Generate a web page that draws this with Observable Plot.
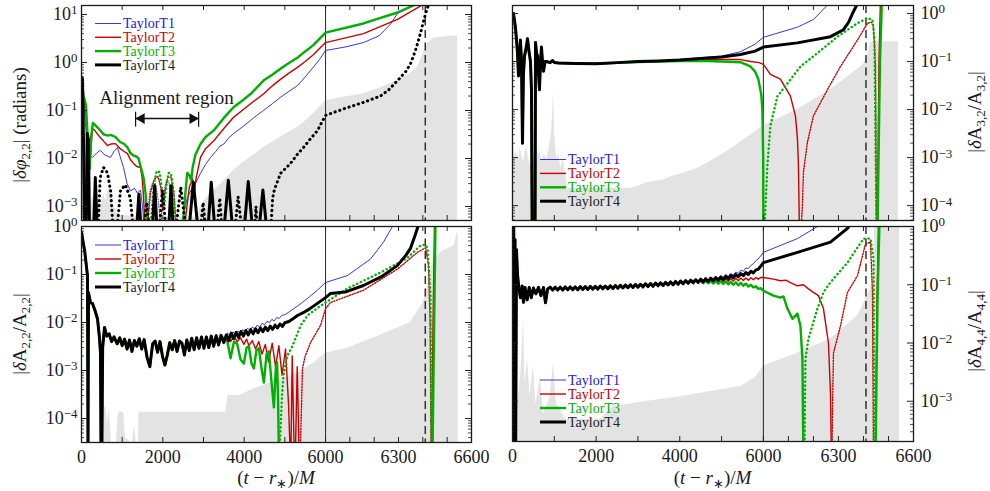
<!DOCTYPE html>
<html><head><meta charset="utf-8">
<script src="https://cdn.jsdelivr.net/npm/d3@7"></script>
<script src="https://cdn.jsdelivr.net/npm/@observablehq/plot@0.6"></script>
<style>
body{margin:0;background:#fff;}
#wrap{position:relative;width:990px;height:491px;font-family:"Liberation Serif",serif;}
#wrap svg{position:absolute;left:0;top:0;overflow:visible;}
</style></head><body><div id="wrap"></div><script>
// ---------------- DATA ----------------
const legendNames = ["TaylorT1","TaylorT2","TaylorT3","TaylorT4"];
const xTickLabels = [0,2000,4000,6000,6300,6600];
const xTickMarks = [0,1000,2000,3000,4000,5000,6000,6100,6200,6300,6400,6500,6600];
const tMerge = 6000, tPeak = 6410;

// Top-left: |delta phi_22|
const phiT1_a = [[0,0.4],[60,0.12],[120,0.03],[170,0.012],[270,0.0105],[370,0.013],[467,0.0148],[560,0.012],[713,0.0105],[800,0.014],[885,0.017],[950,0.011],[1033,0.0065],[1120,0.003],[1205,0.0021],[1300,0.0024],[1377,0.0019],[1450,0.0022],[1500,0.001],[1540,0.0004]];
const phiT1_b = [[1600,0.0004],[1680,0.002],[1750,0.0032],[1820,0.003],[1880,0.0015],[1950,0.0004],[2000,0.0015],[2080,0.0033],[2150,0.0032],[2220,0.0015],[2280,0.0004]];
const phiT1_c = [[2450,0.0004],[2600,0.0015],[2730,0.0025],[2800,0.003],[2926,0.0049],[3050,0.0075],[3172,0.0105],[3300,0.014],[3400,0.018],[3500,0.02],[3620,0.027],[3738,0.033],[3950,0.045],[4156,0.062],[4300,0.078],[4475,0.1],[4700,0.14],[4900,0.19],[5100,0.25],[5311,0.33],[5500,0.5],[5700,0.8],[5850,1.15],[6000,1.78],[6080,2.1],[6156,2.6],[6220,3.6],[6267,6.3],[6296,10.5],[6390,18]];
const phiT2_a = [[0,0.4],[50,0.2],[110,0.08],[150,0.02],[200,0.006],[240,0.02],[270,0.042],[330,0.038],[420,0.03],[541,0.023],[639,0.0186],[720,0.02],[836,0.0204],[950,0.016],[1050,0.014],[1131,0.0126],[1200,0.0095],[1279,0.0079],[1360,0.0068],[1451,0.0065],[1490,0.004],[1525,0.0016],[1560,0.0004]];
const phiT2_b = [[1620,0.0004],[1700,0.002],[1800,0.0038],[1880,0.0042],[1950,0.0025],[2000,0.0008],[2050,0.002],[2120,0.004],[2200,0.0041],[2270,0.002],[2320,0.0005]];
const phiT2_c = [[2550,0.0005],[2650,0.0025],[2730,0.0038],[2780,0.0022],[2820,0.004],[2926,0.0105],[3050,0.016],[3246,0.023],[3500,0.042],[3738,0.072],[3950,0.1],[4156,0.138],[4475,0.22],[4700,0.33],[4900,0.45],[5100,0.6],[5311,0.79],[5500,1.05],[5700,1.45],[6000,2.6],[6156,4.0],[6296,7.9],[6400,16]];
const phiT3_a = [[0,0.4],[50,0.2],[110,0.13],[150,0.03],[200,0.006],[240,0.03],[280,0.055],[330,0.05],[420,0.042],[541,0.032],[650,0.03],[720,0.031],[836,0.028],[950,0.022],[1050,0.02],[1131,0.017],[1200,0.013],[1279,0.0115],[1350,0.011],[1402,0.01],[1470,0.006],[1525,0.004],[1580,0.0017],[1623,0.0004]];
const phiT3_b = [[1700,0.0004],[1780,0.003],[1850,0.0055],[1920,0.0052],[1980,0.0022],[2030,0.0009],[2080,0.0025],[2140,0.005],[2200,0.0049],[2260,0.0022],[2300,0.0006]];
const phiT3_c = [[2490,0.0004],[2557,0.002],[2600,0.005],[2650,0.0045],[2700,0.0035],[2730,0.0063],[2800,0.012],[2926,0.02],[3050,0.028],[3246,0.038],[3500,0.07],[3738,0.117],[3950,0.16],[4156,0.22],[4475,0.42],[4700,0.56],[4900,0.75],[5100,0.98],[5311,1.26],[5500,1.7],[5700,2.3],[6000,4.2],[6156,6.5],[6296,11],[6390,18]];
const phiT4_solid = [
  [[0,0.5],[25,0.45],[50,0.02],[74,0.0002]],
  [[110,0.0002],[140,0.033],[170,0.025],[200,0.0002]],
  [[290,0.0002],[340,0.004],[395,0.0002]],
  [[1340,0.0002],[1410,0.0018],[1480,0.0002]],
  [[1730,0.0002],[1800,0.0027],[1870,0.0002]],
  [[2130,0.0002],[2200,0.0027],[2270,0.0002]],
  [[2620,0.0002],[2750,0.0032],[2890,0.0002]],
  [[3090,0.0002],[3190,0.0032],[3300,0.0002]],
  [[3480,0.0002],[3610,0.0035],[3740,0.0002]],
  [[3980,0.0002],[4100,0.0033],[4230,0.0002]],
  [[4340,0.0002],[4460,0.0022],[4580,0.0002]]
];
const phiT4_dotted = [
  [[400,0.0002],[460,0.004],[541,0.0065],[640,0.005],[720,0.002],[790,0.0002]],
  [[850,0.0002],[960,0.0022],[1080,0.0028],[1200,0.0015],[1300,0.0002]],
  [[1500,0.0002],[1600,0.0012],[1700,0.0002]],
  [[1890,0.0002],[1990,0.0022],[2100,0.0002]],
  [[2290,0.0002],[2440,0.0025],[2600,0.0002]],
  [[2900,0.0002],[2990,0.0012],[3080,0.0002]],
  [[3310,0.0002],[3400,0.0015],[3470,0.0002]],
  [[3750,0.0002],[3850,0.0016],[3970,0.0002]],
  [[4240,0.0002],[4290,0.001],[4330,0.0002]],
  [[4640,0.0002],[4700,0.0015],[4740,0.0022],[4800,0.003],[4893,0.0049],[5000,0.006],[5139,0.0079],[5300,0.012],[5459,0.017],[5650,0.027],[5803,0.038],[5900,0.055],[6000,0.079],[6090,0.115],[6160,0.15],[6226,0.2],[6260,0.27],[6296,0.42],[6330,0.65],[6349,0.93],[6370,1.8],[6390,4.0],[6405,8],[6419,14],[6440,20]]
];
const phiErr = [[0,0.004],[30,0.0015],[70,0.0025],[110,0.0012],[160,0.002],[220,0.0011],[280,0.0016],[340,0.0009],[400,0.0014],[470,0.0011],[540,0.0018],[600,0.0013],[650,0.0022],[713,0.0025],[760,0.0012],[820,0.0009],[900,0.0007],[1000,0.00065],[1500,0.0006],[2000,0.0006],[2500,0.0006],[2850,0.0006],[2950,0.0011],[3100,0.0016],[3246,0.0021],[3500,0.0034],[3738,0.0056],[4000,0.0085],[4250,0.012],[4475,0.017],[4700,0.022],[4900,0.028],[5100,0.035],[5311,0.045],[5500,0.06],[5700,0.085],[5850,0.115],[6000,0.16],[6080,0.19],[6156,0.22],[6230,0.3],[6296,0.42],[6350,0.6],[6378,0.8],[6395,1.3],[6410,2.0],[6419,2.5],[6444,3.2],[6500,3.5],[6543,3.6]];
const alignEnds = [1330, 2880];
const alignY = 0.068, alignBarLo = 0.045, alignBarHi = 0.092;
const alignLabel = "Alignment region", alignLabelT = 2090, alignLabelY = 0.187;

// Top-right: |delta A_32 / A_32|
const a32_early = [[0,1.0],[24,1.0],[72,0.5],[120,0.15],[143,0.05],[170,0.15],[190,0.28],[215,0.1],[239,0.002],[260,0.05],[287,0.13],[330,0.2],[359,0.3],[400,0.15],[430,0.1],[454,0.025],[470,0.00003],[540,0.00003],[550,0.25],[575,0.15],[598,0.13],[620,0.06],[645,0.026],[670,0.1],[693,0.2],[720,0.09],[741,0.063],[780,0.1],[813,0.1],[900,0.095],[956,0.105],[1000,0.096]];
const a32_T1 = [[1100,0.093],[1500,0.091],[2000,0.09],[2500,0.095],[3000,0.1],[3500,0.104],[4000,0.11],[4500,0.12],[5000,0.13],[5450,0.16],[5800,0.23],[6000,0.32],[6136,0.52],[6200,0.75],[6256,1.5]];
const a32_T2 = [[1100,0.093],[1500,0.091],[2000,0.09],[2500,0.095],[3000,0.1],[3500,0.102],[4000,0.106],[4500,0.108],[5000,0.11],[5450,0.11],[5700,0.1],[5900,0.095],[6000,0.087],[6028,0.054],[6068,0.043],[6108,0.019],[6128,0.0074],[6136,0.0025],[6140,0.0007],[6144,0.00003]];
const a32_T2_dot = [[6150,0.00003],[6156,0.0001],[6160,0.0005],[6176,0.0021],[6200,0.0074],[6256,0.026],[6308,0.079],[6376,0.28],[6416,0.63],[6432,0.66],[6440,0.52],[6448,0.079],[6452,0.00003]];
const a32_T2_end = [[6456,0.00003],[6462,0.1],[6468,2]];
const a32_T3 = [[1100,0.093],[1500,0.091],[2000,0.09],[2500,0.094],[3000,0.098],[3500,0.1],[4000,0.103],[4500,0.104],[5000,0.1],[5450,0.097],[5689,0.079],[5800,0.062],[5880,0.043],[5950,0.02],[5976,0.01],[5995,0.001],[6000,0.00003]];
const a32_T3_dot = [[6004,0.00003],[6016,0.0007],[6028,0.0046],[6056,0.019],[6096,0.035],[6148,0.079],[6216,0.15],[6296,0.33],[6376,0.63],[6416,0.8],[6436,0.74],[6444,0.28],[6452,0.00003]];
const a32_T3_end = [[6456,0.00003],[6466,0.1],[6474,2]];
const a32_T4 = [[1100,0.093],[1500,0.091],[2000,0.09],[2500,0.095],[3000,0.1],[3500,0.103],[4000,0.108],[4500,0.116],[5000,0.125],[5450,0.14],[5800,0.165],[6000,0.2],[6136,0.245],[6268,0.33],[6320,0.46],[6340,0.65],[6356,1.0],[6376,1.6]];
const a32Err = [[0,0.0012],[30,0.0016],[60,0.001],[100,0.0014],[140,0.0009],[180,0.0016],[220,0.0011],[260,0.0008],[300,0.0013],[340,0.0017],[380,0.001],[420,0.0007],[460,0.0012],[500,0.0009],[540,0.0015],[580,0.0018],[620,0.0011],[660,0.0014],[700,0.0008],[760,0.0012],[820,0.0009],[880,0.0016],[940,0.004],[980,0.023],[1010,0.003],[1060,0.0009],[1100,0.0012],[1160,0.0006],[1220,0.0009],[1280,0.0004],[1330,0.00023],[2000,0.00023],[2820,0.00023],[3000,0.00025],[3200,0.0003],[3610,0.00034],[3800,0.0004],[4000,0.00045],[4420,0.00059],[4800,0.0009],[5100,0.0013],[5450,0.0021],[5700,0.003],[6000,0.0046],[6136,0.01],[6268,0.026],[6360,0.059],[6400,0.087],[6420,0.15],[6428,0.25],[6470,0.26],[6540,0.26]];

// Bottom-left: |delta A_22 / A_22|
const a22_common = [[0,0.75],[80,0.3],[147,0.095],[160,0.00002],[172,0.042],[221,0.026],[270,0.025],[330,0.018],[393,0.012],[440,0.005],[467,0.0023],[480,0.00002],[500,0.00002],[520,0.003],[566,0.0079],[620,0.0052],[680,0.0058],[740,0.004],[800,0.005],[877,0.0036],[940,0.0048],[1000,0.0033],[1060,0.0045],[1120,0.0028],[1180,0.0043],[1240,0.0025],[1300,0.0042],[1360,0.0032],[1420,0.0046],[1480,0.0028],[1540,0.0044],[1610,0.0019],[1680,0.0012],[1750,0.0036],[1810,0.0041],[1870,0.0024],[1930,0.004],[1990,0.002],[2050,0.0013],[2110,0.0021],[2170,0.0038],[2230,0.0027],[2290,0.0042],[2350,0.0025],[2410,0.0041],[2470,0.0037],[2530,0.0021],[2590,0.0043],[2650,0.0026],[2710,0.0047],[2770,0.0027],[2830,0.0048],[2890,0.0029],[2950,0.005],[3010,0.0029],[3070,0.005],[3130,0.003],[3190,0.0052],[3250,0.0032],[3310,0.0053],[3370,0.0034],[3430,0.0054]];
const a22_T1 = [[3500,0.0045],[3583,0.006],[3664,0.0054],[3720,0.0064],[3780,0.0056],[3840,0.0067],[3900,0.0059],[3960,0.0071],[4020,0.0063],[4080,0.0076],[4140,0.0068],[4200,0.0081],[4260,0.0074],[4320,0.0088],[4380,0.008],[4440,0.0096],[4500,0.009],[4560,0.0106],[4620,0.0099],[4680,0.0116],[4740,0.0108],[4800,0.0127],[4860,0.0121],[4920,0.014],[5000,0.0145],[5100,0.0165],[5200,0.019],[5311,0.022],[5450,0.027],[5600,0.034],[5800,0.047],[5950,0.062],[6000,0.068],[6090,0.095],[6185,0.21],[6238,0.47],[6275,1.0],[6290,1.5]];
const a22_T2 = [[3500,0.0042],[3583,0.0055],[3664,0.004],[3750,0.0052],[3830,0.004],[3910,0.0048],[3992,0.0035],[4060,0.0045],[4115,0.0033],[4200,0.0042],[4280,0.0028],[4361,0.004],[4440,0.0022],[4520,0.0035],[4600,0.0015],[4689,0.0037],[4770,0.0012],[4853,0.0033],[4930,0.0008],[5017,0.0028],[5090,0.0002],[5130,0.00002],[5150,0.00002],[5181,0.002],[5230,0.00002],[5260,0.00002],[5304,0.0012],[5350,0.00002]];
const a22_T2_dot = [[5380,0.00002],[5420,0.0004],[5434,0.0011],[5500,0.002],[5631,0.0038],[5877,0.0087],[6000,0.0195],[6020,0.026],[6156,0.047],[6296,0.13],[6378,0.29],[6411,0.36],[6423,0.16],[6430,0.01],[6434,0.00002]];
const a22_T2_end = [[6436,0.00002],[6442,0.01],[6448,1.2]];
const a22_T3 = [[3500,0.0045],[3583,0.0042],[3664,0.0018],[3750,0.004],[3828,0.0036],[3910,0.0017],[3992,0.0014],[4060,0.003],[4115,0.0032],[4180,0.0014],[4238,0.0011],[4300,0.0026],[4361,0.0029],[4420,0.0012],[4484,0.00056],[4550,0.0022],[4607,0.0025],[4670,0.0006],[4730,0.00017],[4780,0.0012],[4810,0.0015],[4835,0.0002],[4853,0.00002]];
const a22_T3_dot = [[4870,0.00002],[4930,0.0003],[4968,0.0008],[5030,0.0016],[5090,0.0023],[5170,0.003],[5262,0.0047],[5400,0.009],[5557,0.014],[5800,0.02],[6000,0.026],[6090,0.051],[6226,0.11],[6336,0.22],[6390,0.4],[6410,0.42],[6419,0.35],[6431,0.042],[6436,0.00002]];
const a22_T3_end = [[6440,0.00002],[6444,0.001],[6452,1.2]];
const a22_T4 = [[3500,0.0038],[3560,0.0055],[3620,0.0042],[3680,0.006],[3740,0.0046],[3800,0.0062],[3860,0.0049],[3920,0.0065],[3980,0.0052],[4040,0.0068],[4100,0.0055],[4160,0.0071],[4220,0.0058],[4280,0.0074],[4340,0.0061],[4400,0.0077],[4460,0.0064],[4520,0.008],[4580,0.0068],[4640,0.0084],[4700,0.0072],[4760,0.0088],[4820,0.0077],[4880,0.0093],[4940,0.0083],[5000,0.0099],[5100,0.0105],[5200,0.012],[5311,0.014],[5450,0.016],[5600,0.019],[5800,0.025],[6000,0.033],[6020,0.04],[6080,0.043],[6156,0.059],[6230,0.09],[6296,0.155],[6330,0.25],[6349,0.35],[6370,0.7],[6385,1.2]];
const a22Err = [[0,0.00003],[500,0.00003],[530,0.00017],[600,0.00017],[640,0.00008],[680,0.00016],[740,0.00003],[860,0.00003],[900,0.00012],[960,0.00014],[1041,0.00013],[1080,0.00004],[1250,0.00003],[1300,0.00007],[1350,0.00003],[1400,0.00003],[1410,0.000135],[3550,0.000135],[3600,0.0003],[3900,0.0003],[4200,0.0004],[4475,0.00049],[4900,0.00065],[5311,0.0009],[5700,0.0014],[6000,0.0023],[6090,0.0029],[6226,0.0054],[6349,0.01],[6402,0.026],[6430,0.1],[6444,0.21],[6480,0.3],[6530,0.4],[6540,0.7],[6545,0.75]];

// Bottom-right: |delta A_44 / A_44|
const a44_common = [[0,1.0],[15,0.0001],[30,1.0],[45,0.0001],[60,0.6],[75,0.0001],[95,0.4],[120,0.15],[150,0.09],[191,0.06],[230,0.095],[263,0.05],[300,0.09],[350,0.055],[400,0.09],[450,0.06],[500,0.088],[560,0.07],[621,0.09],[680,0.065],[740,0.09],[789,0.049],[840,0.085],[900,0.091],[960,0.081],[1020,0.091],[1080,0.081],[1140,0.091],[1200,0.081],[1260,0.092],[1320,0.082],[1380,0.092],[1440,0.082],[1500,0.092],[1560,0.082],[1620,0.093],[1680,0.083],[1740,0.093],[1800,0.083],[1860,0.094],[1920,0.084],[1980,0.094],[2040,0.084],[2100,0.095],[2160,0.085],[2220,0.095],[2280,0.085],[2340,0.096],[2400,0.086],[2460,0.097],[2520,0.087],[2580,0.098],[2640,0.088],[2700,0.099],[2760,0.089],[2820,0.1],[2880,0.09],[2940,0.101],[3000,0.091],[3060,0.102],[3120,0.092],[3180,0.104],[3240,0.093],[3300,0.105],[3360,0.094],[3420,0.107],[3480,0.096],[3540,0.108],[3600,0.097],[3660,0.11],[3720,0.099],[3780,0.112],[3840,0.1],[3900,0.114],[3960,0.102],[4020,0.116],[4080,0.104],[4140,0.118],[4200,0.106],[4260,0.12],[4320,0.108],[4380,0.122],[4440,0.11]];
const a44_T1 = [[4500,0.128],[4560,0.115],[4620,0.131],[4680,0.118],[4740,0.135],[4800,0.122],[4860,0.139],[4920,0.127],[4980,0.144],[5040,0.132],[5100,0.15],[5160,0.138],[5220,0.157],[5280,0.146],[5340,0.166],[5400,0.156],[5460,0.178],[5520,0.17],[5580,0.194],[5640,0.19],[5700,0.215],[5760,0.23],[5820,0.26],[5900,0.29],[6000,0.36],[6136,0.62],[6216,1.0],[6240,1.3]];
const a44_T2 = [[4500,0.122],[4560,0.11],[4620,0.123],[4680,0.111],[4740,0.124],[4800,0.112],[4860,0.125],[4920,0.113],[4980,0.126],[5040,0.114],[5100,0.127],[5160,0.115],[5220,0.128],[5280,0.116],[5340,0.129],[5400,0.117],[5460,0.13],[5520,0.118],[5580,0.131],[5640,0.12],[5700,0.132],[5760,0.122],[5820,0.133],[5880,0.125],[5940,0.134],[6000,0.133],[6040,0.125],[6068,0.117],[6090,0.12],[6110,0.108],[6136,0.096],[6160,0.1],[6180,0.085],[6200,0.074],[6220,0.065],[6240,0.039],[6260,0.01],[6268,0.0014],[6272,0.0001]];
const a44_T2_dot = [[6274,0.0001],[6276,0.00063],[6280,0.0067],[6308,0.0196],[6336,0.074],[6376,0.143],[6408,0.5],[6428,0.54],[6436,0.074],[6440,0.0001]];
const a44_T2_end = [[6448,0.0001],[6454,0.05],[6460,1.2]];
const a44_T3 = [[4500,0.118],[4560,0.106],[4620,0.118],[4680,0.106],[4740,0.117],[4800,0.105],[4860,0.116],[4920,0.104],[4980,0.115],[5040,0.103],[5100,0.114],[5160,0.102],[5220,0.112],[5280,0.1],[5340,0.11],[5400,0.098],[5460,0.108],[5520,0.096],[5580,0.105],[5640,0.093],[5700,0.1],[5760,0.09],[5820,0.094],[5880,0.085],[5940,0.087],[6000,0.079],[6040,0.065],[6068,0.06],[6080,0.063],[6096,0.039],[6116,0.026],[6136,0.032],[6148,0.0196],[6156,0.0053],[6160,0.0001]];
const a44_T3_dot = [[6164,0.0001],[6168,0.0053],[6180,0.0117],[6216,0.039],[6240,0.074],[6268,0.11],[6336,0.24],[6400,0.62],[6428,0.62],[6440,0.28],[6444,0.0001]];
const a44_T3_end = [[6448,0.0001],[6456,0.05],[6464,1.2]];
const a44_T4 = [[4500,0.125],[4560,0.112],[4620,0.127],[4680,0.114],[4740,0.13],[4800,0.117],[4860,0.133],[4920,0.12],[4980,0.136],[5040,0.123],[5100,0.14],[5160,0.127],[5220,0.145],[5280,0.132],[5340,0.15],[5400,0.137],[5460,0.155],[5520,0.143],[5580,0.162],[5640,0.15],[5700,0.17],[5760,0.16],[5820,0.18],[5880,0.185],[5940,0.21],[6000,0.24],[6136,0.36],[6268,0.54],[6336,0.93],[6360,1.3]];
const a44Err = [[0,0.0005],[60,0.002],[120,0.0008],[200,0.003],[263,0.026],[300,0.002],[360,0.0053],[420,0.0012],[500,0.004],[560,0.0009],[669,0.0027],[740,0.0006],[837,0.0009],[900,0.0012],[980,0.0046],[1050,0.0009],[1150,0.0007],[1250,0.0005],[1315,0.00049],[2100,0.00049],[2414,0.00081],[3227,0.001],[4015,0.0012],[4804,0.0015],[5450,0.0018],[5800,0.0025],[6000,0.004],[6136,0.0067],[6268,0.0117],[6376,0.029],[6420,0.07],[6440,0.14],[6444,1.0],[6544,1.0]];

// ---------------- STYLE ----------------
const W = 990, H = 491, FRAC = 0.6257;
const colors = ["#2020d8","#c80000","#00b000","#000000"];
const widths = [0.9, 1.4, 2.4, 3.0];
const dash = [
  {strokeDasharray:"1 1.6"},
  {strokeDasharray:"1.2 1.6"},
  {strokeDasharray:"0.3 3.8", strokeLinecap:"round"},
  {strokeDasharray:"0.3 4.6", strokeLinecap:"round"}
];
const FONT = "Liberation Serif";

function lineMark(data, k, dotted) {
  return Plot.line(data, Object.assign({x: d => d[0], y: d => d[1], stroke: colors[k], strokeWidth: widths[k], strokeLinejoin: "round", clip: true}, dotted ? dash[k] : {}));
}
function minorTicks(dom) {
  const out = [];
  const e0 = Math.floor(Math.log10(dom[0])), e1 = Math.ceil(Math.log10(dom[1]));
  for (let e = e0; e <= e1; e++) for (let m = 2; m <= 9; m++) { const v = m * Math.pow(10, e); if (v > dom[0] && v < dom[1]) out.push(v); }
  return out;
}
function makePanel(p) {
  const {L, R, T, B, yDom, yTicks, side, xAxis} = p;
  const fw = R - L, fh = B - T;
  const xr = [L, L + fw * FRAC, R];
  const marks = [
    Plot.areaY(p.err, {x: d => d[0], y1: yDom[0], y2: d => d[1], fill: "#e3e3e3", clip: true}),
    Plot.ruleX([tMerge], {stroke: "#333", strokeWidth: 1.1}),
    Plot.ruleX([tPeak], {stroke: "#333", strokeWidth: 1.5, strokeDasharray: "8,4.5"})
  ];
  p.series.forEach(s => marks.push(lineMark(s.data, s.k, s.dotted)));
  if (p.extra) marks.push(...p.extra);
  const minors = minorTicks(yDom);
  const majors = yTicks.filter(v => v >= yDom[0] * 0.999 && v <= yDom[1] * 1.001);
  marks.push(
    Plot.tickX(xTickMarks, {x: d => d, insetBottom: fh - 5, stroke: "#222"}),
    Plot.tickX(xTickMarks, {x: d => d, insetTop: fh - 5, stroke: "#222"}),
    Plot.tickY(majors, {y: d => d, insetRight: fw - 6, stroke: "#222"}),
    Plot.tickY(majors, {y: d => d, insetLeft: fw - 6, stroke: "#222"}),
    Plot.tickY(minors, {y: d => d, insetRight: fw - 3, stroke: "#222", strokeWidth: 0.8}),
    Plot.tickY(minors, {y: d => d, insetLeft: fw - 3, stroke: "#222", strokeWidth: 0.8}),
    Plot.frame({stroke: "#1a1a1a", strokeWidth: 1.3}),
    Plot.axisY({ticks: yTicks, anchor: side, tickSize: 0, tickPadding: side === "left" ? 4 : 7, label: null, fontSize: 18,
      tickFormat: d => "10^" + Math.round(Math.log10(d))})
  );
  if (xAxis) marks.push(Plot.axisX({ticks: xTickLabels, anchor: "bottom", tickSize: 0, tickPadding: 8, label: null, fontSize: 18, tickFormat: d => String(d)}));
  const svg = Plot.plot({
    width: W, height: H,
    marginLeft: L, marginRight: W - R, marginTop: T, marginBottom: H - B,
    style: {background: "none", overflow: "visible", fontFamily: FONT, fontSize: "18px", color: "#1a1a1a"},
    x: {type: "linear", domain: [0, 6000, 6600], range: xr, axis: null},
    y: {type: "log", domain: yDom, range: [B, T], axis: null},
    marks
  });
  d3.select(svg).selectAll('g[aria-label="y-axis tick label"] text').each(function() {
    const m = this.textContent.match(/^10\^(-?\d+)$/);
    if (!m) return;
    const t = d3.select(this);
    t.text("10");
    t.append("tspan").attr("dy", "-0.45em").attr("font-size", "0.72em").text(m[1].replace("-", "\u2212"));
  });
  const g = d3.select(svg).append("g").attr("font-family", FONT).attr("font-size", 14).attr("text-anchor", "start");
  legendNames.forEach((name, i) => {
    const y = p.leg[1] + i * p.leg[2];
    g.append("line").attr("x1", p.leg[0]).attr("x2", p.leg[0] + 26).attr("y1", y).attr("y2", y)
      .attr("stroke", colors[i]).attr("stroke-width", widths[i]);
    g.append("text").attr("x", p.leg[0] + 28).attr("y", y).attr("dy", "0.35em").attr("fill", colors[i] === "#000000" ? "#222" : colors[i]).text(name);
  });
  addTitle(svg, p.title, p.titlePos[0], p.titlePos[1], true);
  if (xAxis) addTitle(svg, xTitle, (L + R) / 2, 484, false);
  return svg;
}
function addTitle(svg, parts, x, y, vertical) {
  const t = d3.select(svg).append("text").attr("font-family", FONT).attr("font-size", 19).attr("fill", "#1a1a1a")
    .attr("text-anchor", "middle")
    .attr("transform", vertical ? `translate(${x},${y}) rotate(-90)` : `translate(${x},${y})`)
    .attr("dy", vertical ? "0.35em" : 0);
  let shifted = false;
  parts.forEach(pt => {
    const s = t.append("tspan").text(pt.t);
    if (pt.it) s.attr("font-style", "italic");
    if (pt.sub) { s.attr("font-size", 13).attr("dy", 4); shifted = true; }
    else if (shifted) { s.attr("dy", -4); shifted = false; }
  });
}
const xTitle = [{t:"("},{t:"t",it:1},{t:" \u2212 "},{t:"r",it:1},{t:"\u2217",sub:1},{t:")/"},{t:"M",it:1}];
const ampTitle = (a, b) => [{t:"|"},{t:"\u03b4",it:1},{t:"A"},{t:a,sub:1},{t:"/A"},{t:b,sub:1},{t:"|"}];

const ser = (arr) => arr.map(([data, k, dotted]) => ({data, k, dotted}));

const panels = [
  {L:81, R:471, T:5, B:220, yDom:[5.1e-4, 15.4], yTicks:[1e-3,1e-2,1e-1,1,10], side:"left", xAxis:false, err: phiErr,
   leg:[95, 23.5, 13.8], titlePos:[19, 125],
   title:[{t:"|"},{t:"\u03b4\u03c6",it:1},{t:"2,2",sub:1},{t:"| (radians)"}],
   series: ser([
     [phiT1_a,0,false],[phiT1_b,0,true],[phiT1_c,0,false],
     [phiT2_a,1,false],[phiT2_b,1,true],[phiT2_c,1,false],
     [phiT3_a,2,false],[phiT3_b,2,true],[phiT3_c,2,false],
     ...phiT4_solid.map(s => [s,3,false]), ...phiT4_dotted.map(s => [s,3,true])
   ]),
   extra: [
     Plot.ruleY([alignY], {x1: alignEnds[0], x2: alignEnds[1], stroke: "#111", strokeWidth: 1.5}),
     Plot.ruleX(alignEnds, {x: d => d, y1: alignBarLo, y2: alignBarHi, stroke: "#111", strokeWidth: 1.2}),
     Plot.dot([alignEnds[0]], {x: d => d, y: alignY, symbol: "triangle", r: 4, fill: "#111", stroke: "none", rotate: -90, dx: 6}),
     Plot.dot([alignEnds[1]], {x: d => d, y: alignY, symbol: "triangle", r: 4, fill: "#111", stroke: "none", rotate: 90, dx: -6}),
     Plot.text([alignLabel], {x: alignLabelT, y: alignLabelY, text: d => d, fontSize: 19, fill: "#1a1a1a"})
   ]},
  {L:512, R:913, T:5, B:220, yDom:[4.9e-5, 1.47], yTicks:[1e-4,1e-3,1e-2,1e-1,1], side:"right", xAxis:false, err: a32Err,
   leg:[540, 159.5, 13.9], titlePos:[974, 112], title: ampTitle("3,2","3,2"),
   series: ser([
     [a32_early.concat(a32_T1),0,false],
     [a32_early.concat(a32_T2),1,false],[a32_T2_dot,1,true],[a32_T2_end,1,false],
     [a32_early.concat(a32_T3),2,false],[a32_T3_dot,2,true],[a32_T3_end,2,false],
     [a32_early.concat(a32_T4),3,false]
   ])},
  {L:81, R:471, T:226, B:442, yDom:[3.16e-5, 1.0], yTicks:[1e-4,1e-3,1e-2,1e-1,1], side:"left", xAxis:true, err: a22Err,
   leg:[95, 245, 14], titlePos:[19, 334], title: ampTitle("2,2","2,2"),
   series: ser([
     [a22_common.concat(a22_T1),0,false],
     [a22_common.concat(a22_T2),1,false],[a22_T2_dot,1,true],[a22_T2_end,1,false],
     [a22_common.concat(a22_T3),2,false],[a22_T3_dot,2,true],[a22_T3_end,2,false],
     [a22_common.concat(a22_T4),3,false]
   ])},
  {L:512, R:913, T:226, B:441, yDom:[2.04e-4, 1.0], yTicks:[1e-3,1e-2,1e-1,1], side:"right", xAxis:true, err: a44Err,
   leg:[540, 380, 14], titlePos:[974, 331], title: ampTitle("4,4","4,4"),
   series: ser([
     [a44_common.concat(a44_T1),0,false],
     [a44_common.concat(a44_T2),1,false],[a44_T2_dot,1,true],[a44_T2_end,1,false],
     [a44_common.concat(a44_T3),2,false],[a44_T3_dot,2,true],[a44_T3_end,2,false],
     [a44_common.concat(a44_T4),3,false]
   ])}
];
const wrap = document.getElementById("wrap");
panels.forEach(p => wrap.appendChild(makePanel(p)));
</script></body></html>
